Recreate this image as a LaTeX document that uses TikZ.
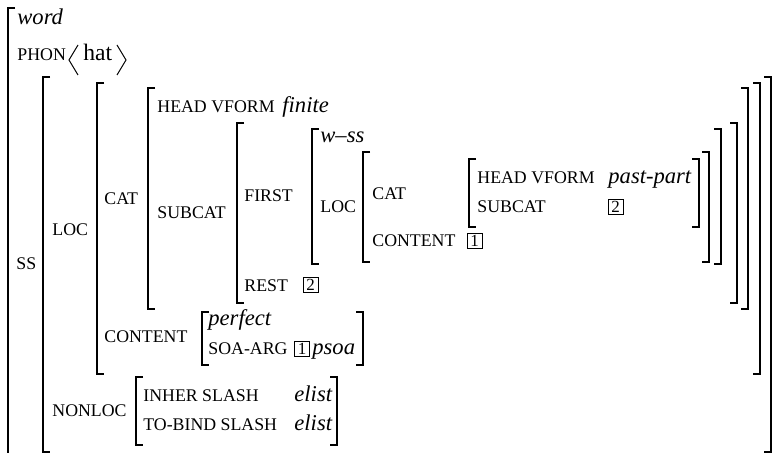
\documentclass[tikz,border=0pt]{standalone}
\usepackage{fontspec}
\setmainfont{Liberation Serif}
\usepackage{tikz}

\begin{document}
\begin{tikzpicture}[x=0.5pt, y=-0.5pt,
    feat/.style={anchor=base west, inner sep=0pt, font=\fontsize{8.9}{10}\selectfont},
    val/.style={anchor=base west, inner sep=0pt, font=\fontsize{11.3}{13}\selectfont\itshape},
    plain/.style={anchor=base west, inner sep=0pt, font=\fontsize{11.8}{13}\selectfont},
    tag/.style={draw, line width=0.45pt, inner sep=0pt, minimum size=7.5pt, font=\fontsize{8.5}{9}\selectfont},
    brak/.style={draw, line width=0.7pt},
    angl/.style={draw, line width=0.5pt}]

    \useasboundingbox (0,0) rectangle (776,453);

    % Outer word matrix
    \draw [brak] (15,8) -- (8,8) -- (8,453);
    \node [val] (word) at (17,25) {word};
    \node [feat] (phon) at (17,61) {PHON};
    \draw [angl] (78,45) -- (69,60) -- (78,75);
    \node [plain] (hat) at (83,61) {hat};
    \draw [angl] (117,45) -- (126,60) -- (117,75);

    % SS value
    \node [feat] (ss) at (16,270) {SS};
    \draw [brak] (50,77) -- (43,77) -- (43,452) -- (50,452);
    \draw [brak] (764,77) -- (771,77) -- (771,452) -- (764,452);

    % LOC value
    \node [feat] (loc) at (52,236) {LOC};
    \draw [brak] (104,83) -- (97,83) -- (97,374) -- (104,374);
    \draw [brak] (753,83) -- (760,83) -- (760,374) -- (753,374);

    % CAT value
    \node [feat] (cat) at (104,205) {CAT};
    \draw [brak] (155,88) -- (148,88) -- (148,309) -- (155,309);
    \draw [brak] (741,88) -- (748,88) -- (748,309) -- (741,309);
    \node [feat] (head) at (157,113) {HEAD VFORM};
    \node [val] (finite) at (282,113) {finite};
    \node [feat] (subcat) at (157,219) {SUBCAT};

    % SUBCAT list
    \draw [brak] (244,123) -- (237,123) -- (237,303) -- (244,303);
    \draw [brak] (730,123) -- (737,123) -- (737,303) -- (730,303);
    \node [feat] (first) at (244,202) {FIRST};
    \node [feat] (rest) at (244,292) {REST};
    \node [tag] (rest_tag) at (310.5,285) {2};

    % FIRST element
    \draw [brak] (319,129) -- (312,129) -- (312,264) -- (319,264);
    \draw [brak] (714,129) -- (721,129) -- (721,264) -- (714,264);
    \node [val] (wss) at (320,143) {w--ss};
    \node [feat] (loc_in) at (320,213) {LOC};

    % inner LOC value
    \draw [brak] (370,152) -- (363,152) -- (363,262) -- (370,262);
    \draw [brak] (702,152) -- (709,152) -- (709,262) -- (702,262);
    \node [feat] (cat_in) at (372,200) {CAT};
    \node [feat] (cont_in) at (372,247) {CONTENT};
    \node [tag] (cont_tag) at (474.5,241) {1};

    % inner CAT value
    \draw [brak] (476,159) -- (469,159) -- (469,227) -- (476,227);
    \draw [brak] (692,159) -- (699,159) -- (699,227) -- (692,227);
    \node [feat] (head_in) at (477,184) {HEAD VFORM};
    \node [val] (pastpart) at (608,184) {past-part};
    \node [feat] (subcat_in) at (477,213) {SUBCAT};
    \node [tag] (subcat_tag) at (615.5,207) {2};

    % CONTENT value
    \node [feat] (cont) at (104,343) {CONTENT};
    \draw [brak] (209,312) -- (202,312) -- (202,365) -- (209,365);
    \draw [brak] (356,312) -- (363,312) -- (363,365) -- (356,365);
    \node [val] (perfect) at (208,326) {perfect};
    \node [feat] (soaarg) at (208,355) {SOA-ARG};
    \node [tag] (soa_tag) at (302,349) {1};
    \node [val] (psoa) at (312,355) {psoa};

    % NONLOC value
    \node [feat] (nonloc) at (52,417) {NONLOC};
    \draw [brak] (143,377) -- (136,377) -- (136,445) -- (143,445);
    \draw [brak] (330,377) -- (337,377) -- (337,445) -- (330,445);
    \node [feat] (inher) at (143,402) {INHER SLASH};
    \node [val] (elist_a) at (294,402) {elist};
    \node [feat] (tobind) at (143,431) {TO-BIND SLASH};
    \node [val] (elist_b) at (294,431) {elist};
\end{tikzpicture}
\end{document}
